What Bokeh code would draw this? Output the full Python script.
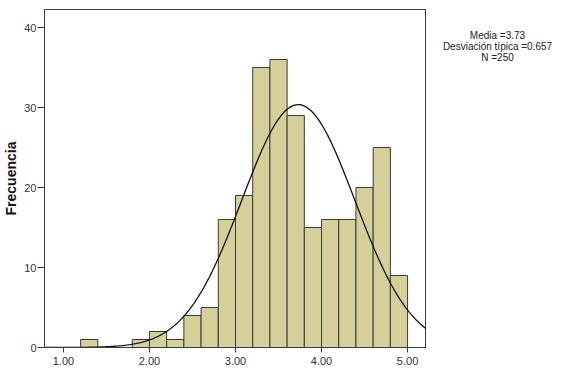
import numpy as np
from bokeh.plotting import figure
from bokeh.layouts import row
from bokeh.models import Label, FixedTicker, Range1d
from bokeh.embed import file_html
from bokeh.resources import INLINE

# Histogram data (bin width 0.2)
bin_left = [1.2, 1.8, 2.0, 2.2, 2.4, 2.6, 2.8, 3.0, 3.2, 3.4, 3.6, 3.8, 4.0, 4.2, 4.4, 4.6, 4.8]
counts = [1, 1, 2, 1, 4, 5, 16, 19, 35, 36, 29, 15, 16, 16, 20, 25, 9]
bin_width = 0.2
mean = 3.73
std = 0.657
n = 250
x_ticks = [1, 2, 3, 4, 5]
x_tick_labels = {1: "1.00", 2: "2.00", 3: "3.00", 4: "4.00", 5: "5.00"}
y_ticks = [0, 10, 20, 30, 40]
stats_lines = ["Media =3.73", "Desviación típica =0.657", "N =250"]

FONT = "Liberation Sans"

p = figure(width=420, height=366, output_backend="svg", toolbar_location=None,
           x_range=Range1d(0.78, 5.22), y_range=Range1d(0, 42.25),
           min_border_left=38, min_border_right=0, min_border_top=9, min_border_bottom=19)
p.frame_width = 382
p.frame_height = 338

p.background_fill_color = "#ffffff"
p.border_fill_color = "#ffffff"
p.outline_line_color = "#3c3c3c"
p.outline_line_width = 1
p.xgrid.visible = False
p.ygrid.visible = False

lefts = np.array(bin_left)
p.quad(left=lefts, right=lefts + bin_width, bottom=0, top=counts,
       fill_color="#d5cf9a", line_color="#3a3a3a", line_width=1)

xs = np.linspace(0.78, 5.22, 300)
ys = n * bin_width * np.exp(-0.5 * ((xs - mean) / std) ** 2) / (std * np.sqrt(2 * np.pi))
p.line(xs, ys, line_color="#111111", line_width=1.3)

p.xaxis.ticker = FixedTicker(ticks=x_ticks)
p.xaxis.major_label_overrides = x_tick_labels
p.yaxis.ticker = FixedTicker(ticks=y_ticks)
for ax in (p.xaxis[0], p.yaxis[0]):
    ax.minor_tick_line_color = None
    ax.major_tick_in = 0
    ax.major_tick_line_color = "#3c3c3c"
    ax.axis_line_color = "#3c3c3c"
    ax.major_label_text_font = FONT
    ax.major_label_text_font_size = "11px"
    ax.major_label_text_color = "#333333"
p.xaxis.major_tick_out = 5
p.xaxis.major_label_standoff = 4
p.yaxis.major_tick_out = 7
p.yaxis.major_label_standoff = 1
p.yaxis.axis_label = "Frecuencia"
p.yaxis.axis_label_text_font = FONT
p.yaxis.axis_label_text_font_style = "bold"
p.yaxis.axis_label_text_font_size = "14px"
p.yaxis.axis_label_text_color = "#111111"
p.yaxis.axis_label_standoff = 2

# Side panel with summary statistics
side = figure(width=126, height=366, output_backend="svg", toolbar_location=None,
              x_range=Range1d(0, 126), y_range=Range1d(366, 0),
              min_border=0)
side.axis.visible = False
side.grid.visible = False
side.outline_line_color = None
side.background_fill_color = "#ffffff"
side.border_fill_color = "#ffffff"
for i, t in enumerate(stats_lines):
    side.add_layout(Label(x=71, y=28 + i * 12, text=t, text_align="center",
                          text_baseline="middle", text_font=FONT, text_font_size="10px",
                          text_color="#222222"))

layout = row(p, side, spacing=0)
open("out.html", "w").write(file_html(layout, INLINE))
